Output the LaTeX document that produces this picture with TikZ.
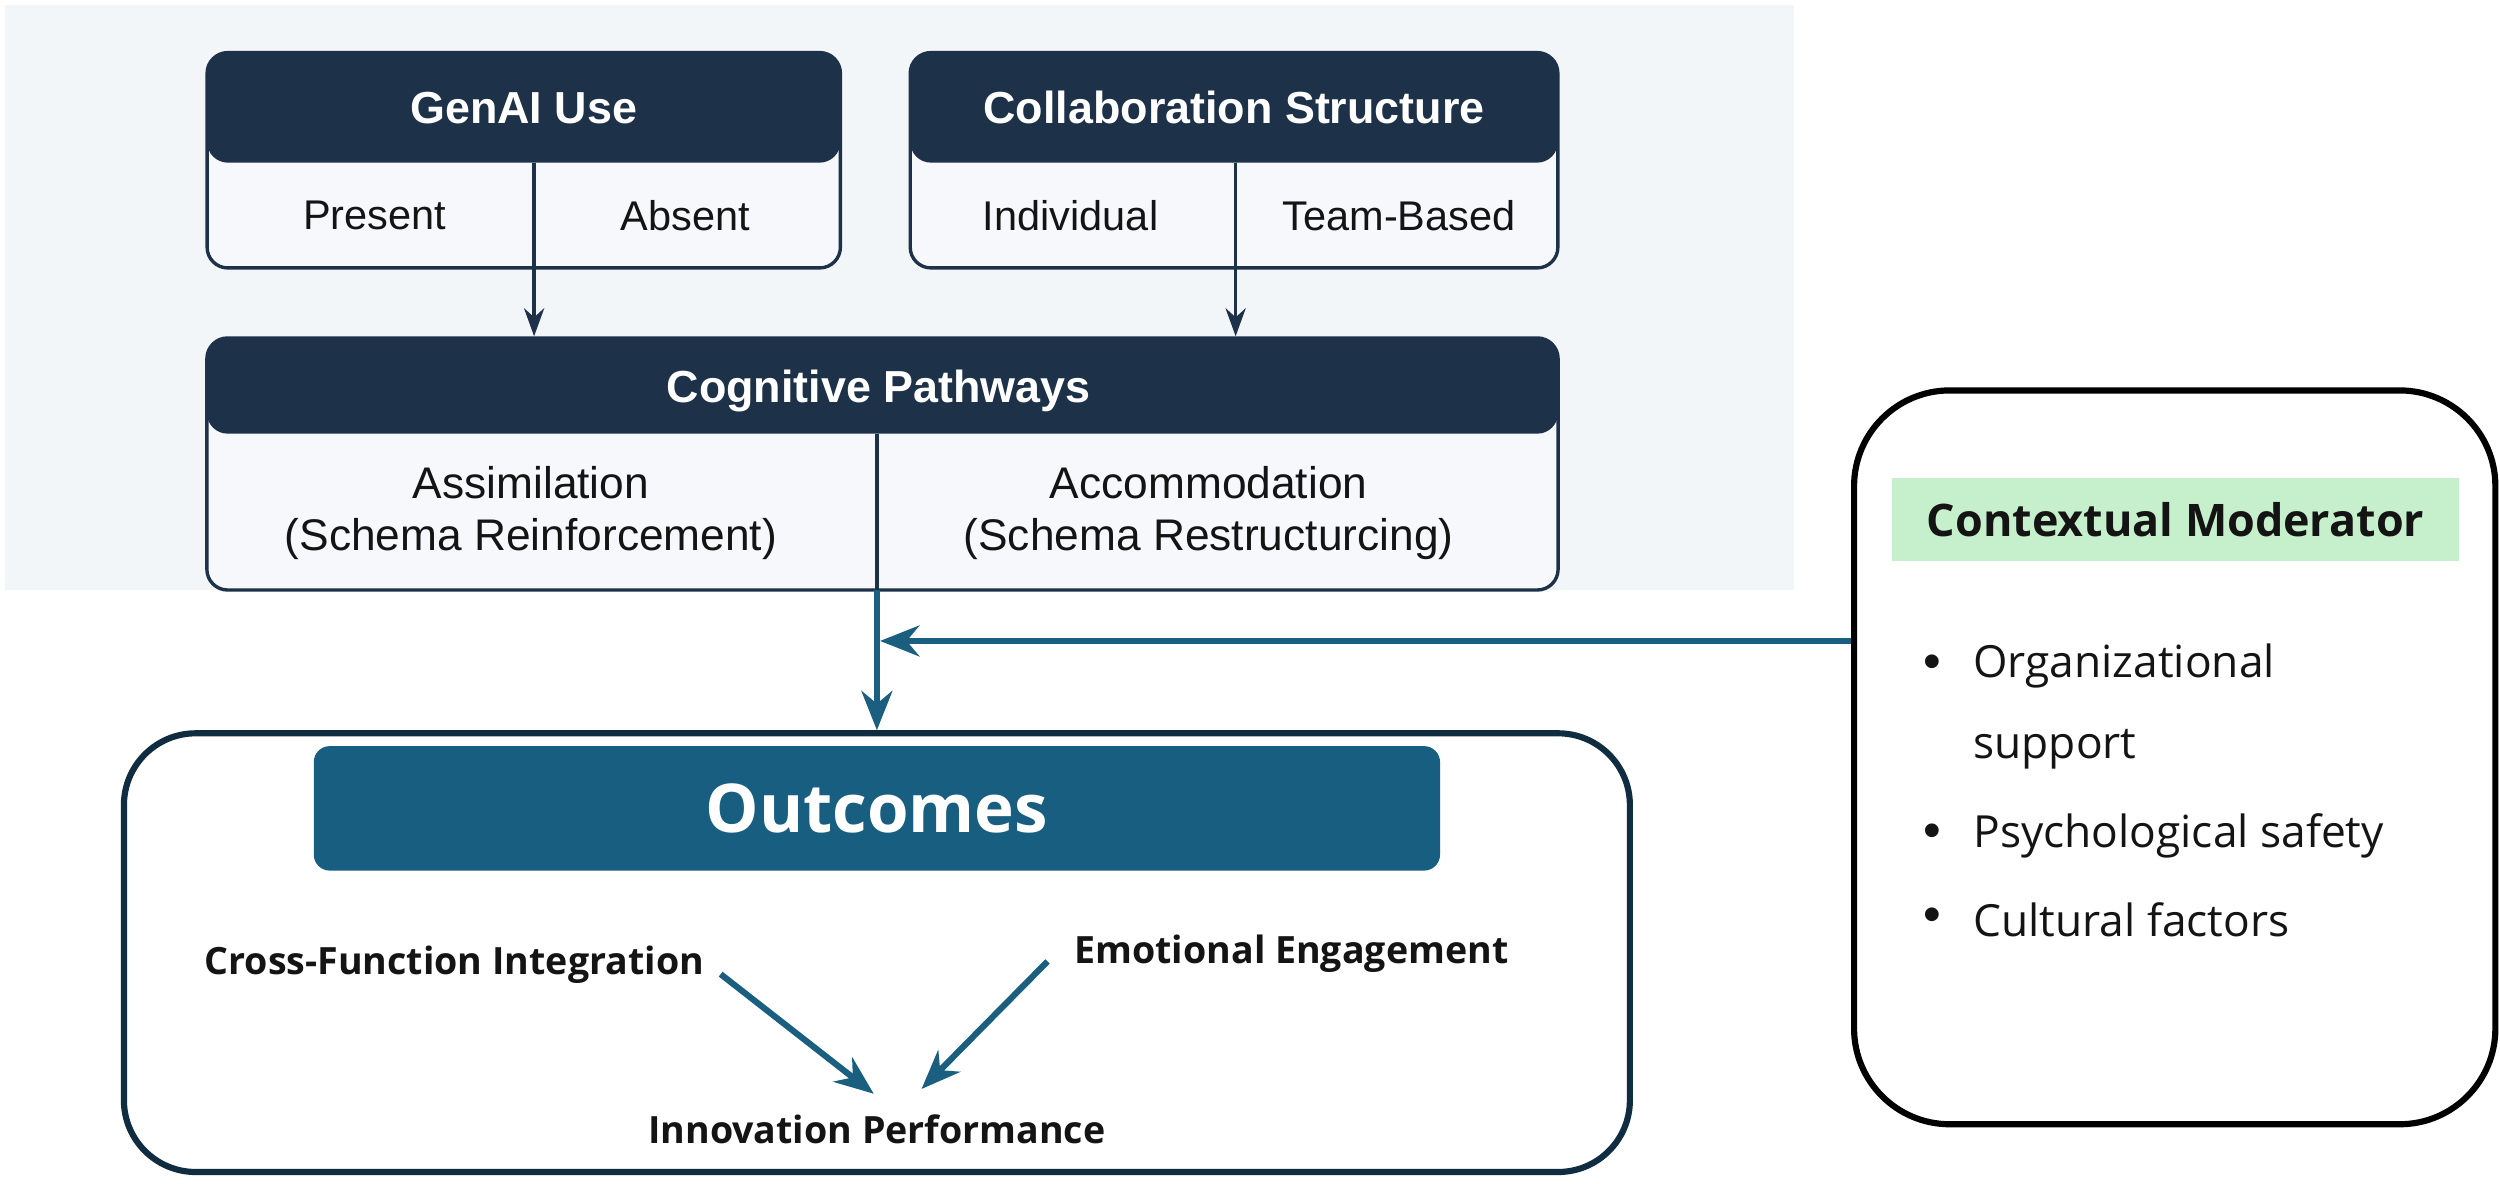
\documentclass[tikz,border=0pt]{standalone}
\usepackage{fontspec}
\setmainfont{Liberation Sans}
\newfontfamily\osans{Open Sans}
\usetikzlibrary{arrows.meta,calc}
\definecolor{navy}{HTML}{1D3149}
\definecolor{panel}{HTML}{F3F6F9}
\definecolor{cellc}{HTML}{F6F8FB}
\definecolor{teal}{HTML}{1A5E80}
\definecolor{tealhdr}{HTML}{185E80}
\definecolor{outb}{HTML}{102C40}
\definecolor{greenl}{HTML}{C6F0CB}
\definecolor{txt}{HTML}{141414}
\tikzset{
  splitbox/.style={draw=navy, line width=0.6pt, fill=cellc, rounded corners=0.13cm, inner sep=0pt},
  hdrtext/.style={text=white, font=\fontsize{8}{9.6}\selectfont\bfseries, inner sep=0pt},
  celltext/.style={text=txt, font=\fontsize{7.4}{9}\selectfont, inner sep=0pt, align=center},
  cogtext/.style={text=txt, font=\fontsize{7.9}{9.3}\selectfont, inner sep=0pt, align=center},
  navyarrow/.style={draw=navy, line width=0.6pt, -{Stealth[length=5pt,width=3.6pt]}},
  navyline/.style={draw=navy, line width=0.6pt},
  tealarrow/.style={draw=teal, line width=1.1pt, -{Stealth[length=7pt,width=5.5pt]}},
  outtext/.style={text=txt, font=\osans\fontsize{6.7}{8}\selectfont\bfseries, inner sep=0pt},
  bullettext/.style={text=txt, font=\osans\fontsize{7.9}{9.5}\selectfont, inner sep=0pt, anchor=west},
  bulletdot/.style={text=txt, font=\fontsize{9}{10}\selectfont, inner sep=0pt, anchor=center},
}
\begin{document}
\begin{tikzpicture}[x=0.01cm,y=-0.01cm]
\useasboundingbox (0,0) rectangle (1568,742);
\fill[white] (0,0) rectangle (1568,742);
\fill[panel] (3,3) rectangle (1125,370);

% GenAI Use
\node[splitbox, minimum width=3.97cm, minimum height=1.35cm,
  path picture={\fill[navy] (path picture bounding box.north west) rectangle ([yshift=-0.69cm]path picture bounding box.north east);}]
  (genai) at (328.5,100.5) {};
\node[hdrtext] (genaiT) at (328.5,67.5) {GenAI Use};
\node[celltext] (present) at (235,135) {Present};
\node[celltext] (absent) at (430,135) {Absent};
\coordinate (gdivT) at (335,102);
\coordinate (gdivB) at (335,168);

% Collaboration Structure
\node[splitbox, minimum width=4.06cm, minimum height=1.35cm,
  path picture={\fill[navy] (path picture bounding box.north west) rectangle ([yshift=-0.69cm]path picture bounding box.north east);}]
  (collab) at (774,100.5) {};
\node[hdrtext] (collabT) at (774,67.5) {Collaboration Structure};
\node[celltext] (indiv) at (671.5,135) {Individual};
\node[celltext] (team) at (877.5,135) {Team-Based};
\coordinate (cdivT) at (775,102);
\coordinate (cdivB) at (775,168);

% Cognitive Pathways
\node[splitbox, minimum width=8.47cm, minimum height=1.58cm,
  path picture={\fill[navy] (path picture bounding box.north west) rectangle ([yshift=-0.60cm]path picture bounding box.north east);}]
  (cog) at (553.5,291) {};
\node[hdrtext] (cogT) at (551,245) {Cognitive Pathways};
\node[cogtext] (assim) at (333,322) {Assimilation\\(Schema Reinforcement)};
\node[cogtext] (accom) at (758,322) {Accommodation\\(Schema Restructurcing)};
\coordinate (kdivT) at (550,272);
\coordinate (kdivB) at (550,370);

\draw[navyline] (gdivT) -- (gdivB);
\draw[navyline] (cdivT) -- (cdivB);
\draw[navyline] (kdivT) -- (kdivB);
\draw[navyarrow] (gdivB) -- (gdivB |- cog.north);
\draw[navyarrow] (cdivB) -- (cdivB |- cog.north);

% Contextual Moderator
\node[draw=black, line width=1.1pt, fill=white, rounded corners=0.6cm, minimum width=4.02cm, minimum height=4.6cm, inner sep=0pt]
  (mod) at (1364,475) {};
\node[fill=greenl, minimum width=3.55cm, minimum height=0.52cm, inner sep=0pt, text=txt,
  font=\osans\fontsize{8}{9.6}\selectfont\bfseries] (modT) at (1364.5,326) {Contextual Moderator};
\node[bulletdot] (b1) at (1212,418) {•};
\node[bullettext] (t1) at (1237,418) {Organizational};
\node[bullettext] (t1b) at (1237,470) {support};
\node[bulletdot] (b2) at (1212,524) {•};
\node[bullettext] (t2) at (1237,524) {Psychological safety};
\node[bulletdot] (b3) at (1212,577) {•};
\node[bullettext] (t3) at (1237,577) {Cultural factors};

% Outcomes
\node[draw=outb, line width=1.1pt, fill=white, rounded corners=0.45cm, minimum width=9.44cm, minimum height=2.75cm, inner sep=0pt]
  (out) at (550,597.5) {};
\node[fill=tealhdr, rounded corners=0.1cm, minimum width=7.06cm, minimum height=0.78cm, inner sep=0pt, text=white,
  font=\osans\fontsize{12}{14}\selectfont\bfseries] (outT) at (550,507) {Outcomes};
\node[outtext] (cfi) at (285,605) {Cross-Function Integration};
\node[outtext] (emo) at (810,598) {Emotional Engagement};
\node[outtext] (inno) at (550,708) {Innovation Performance};
\coordinate (a1s) at (452,611);
\coordinate (a1e) at (548,686);
\coordinate (a2s) at (657,603);
\coordinate (a2e) at (578,683);
\draw[tealarrow] (a1s) -- (a1e);
\draw[tealarrow] (a2s) -- (a2e);

% main teal connectors
\coordinate (mj) at (kdivB |- 0,402);
\draw[tealarrow] (kdivB) -- (kdivB |- out.north);
\draw[tealarrow] (mod.west |- mj) -- ([xshift=0.02cm]mj);
\end{tikzpicture}
\end{document}
